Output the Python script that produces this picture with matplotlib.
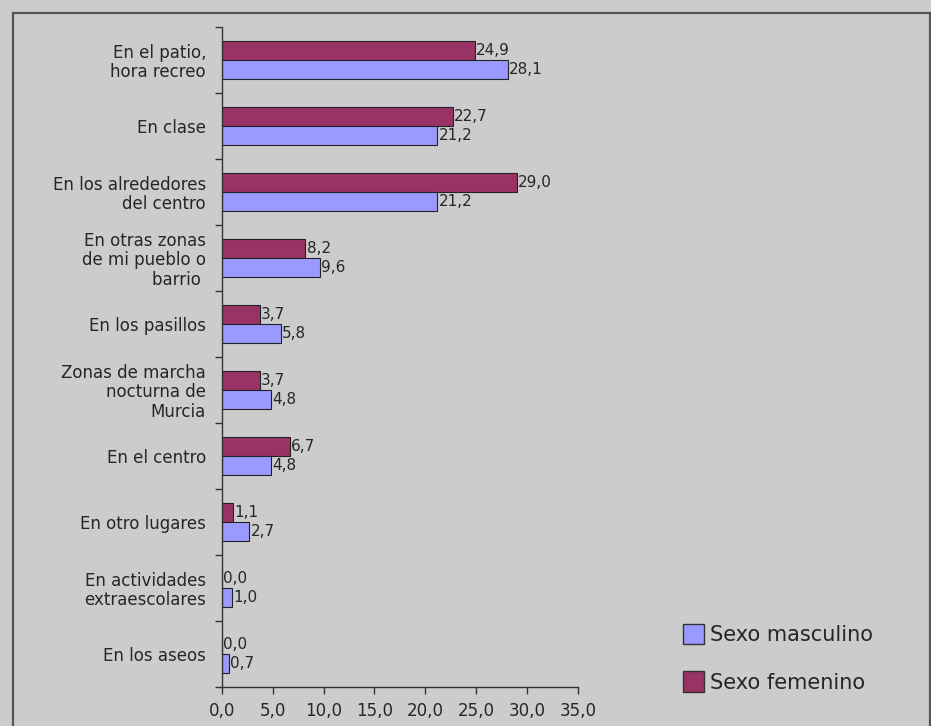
import matplotlib
matplotlib.use("Agg")
import matplotlib.pyplot as plt
from matplotlib.patches import Rectangle, Patch
import numpy as np

categories = [
    "En el patio,\nhora recreo",
    "En clase",
    "En los alrededores\ndel centro",
    "En otras zonas\nde mi pueblo o\nbarrio ",
    "En los pasillos",
    "Zonas de marcha\nnocturna de\nMurcia",
    "En el centro",
    "En otro lugares",
    "En actividades\nextraescolares",
    "En los aseos",
]
femenino = [24.9, 22.7, 29.0, 8.2, 3.7, 3.7, 6.7, 1.1, 0.0, 0.0]
masculino = [28.1, 21.2, 21.2, 9.6, 5.8, 4.8, 4.8, 2.7, 1.0, 0.7]
xticks = [0, 5, 10, 15, 20, 25, 30, 35]
xtick_labels = ["0,0", "5,0", "10,0", "15,0", "20,0", "25,0", "30,0", "35,0"]

plt.rcParams['font.family'] = ['DejaVu Sans']

W, H = 931, 726
fig = plt.figure(figsize=(W / 100, H / 100), dpi=100)
fig.patch.set_facecolor('#CCCCCC')

# outer frame
fig.add_artist(Rectangle((12.5 / W, -0.01), (930 - 12.5) / W, 1 - 13 / H + 0.01,
                         transform=fig.transFigure, fill=False,
                         edgecolor='#555555', linewidth=1.6))

ax = fig.add_axes([222 / W, 1 - 686.7 / H, (577.7 - 222) / W, (686.7 - 27) / H])
ax.set_facecolor('#CCCCCC')

n = len(categories)
y = np.arange(n)
bh = 0.29
C_F = '#993366'
C_M = '#9999FF'
TXT = '#262626'
ax.barh(y - bh / 2, femenino, height=bh, color=C_F, edgecolor='#222222', linewidth=0.8)
ax.barh(y + bh / 2, masculino, height=bh, color=C_M, edgecolor='#222222', linewidth=0.8)

for i in range(n):
    ax.text(femenino[i] + 0.12, y[i] - bh / 2, f"{femenino[i]:.1f}".replace('.', ','),
            va='center', ha='left', fontsize=11, color=TXT)
    ax.text(masculino[i] + 0.12, y[i] + bh / 2, f"{masculino[i]:.1f}".replace('.', ','),
            va='center', ha='left', fontsize=11, color=TXT)

ax.set_xlim(0, 35)
ax.set_ylim(n - 0.5, -0.5)
ax.set_xticks(xticks)
ax.set_xticklabels(xtick_labels, fontsize=12, color=TXT)

ax.set_yticks(y)
ax.set_yticklabels(categories, fontsize=12, color=TXT, linespacing=1.08)
ax.tick_params(axis='y', which='major', length=0, pad=11.5)
ax.set_yticks(np.arange(-0.5, n, 1.0), minor=True)
ax.tick_params(axis='y', which='minor', length=5, width=1, color='#333333', direction='out')
ax.tick_params(axis='x', length=5, width=1, color='#333333', direction='out', pad=6)

for s in ['top', 'right']:
    ax.spines[s].set_visible(False)
for s in ['left', 'bottom']:
    ax.spines[s].set_color('#333333')
    ax.spines[s].set_linewidth(1)

handles = [Patch(facecolor=C_M, edgecolor='#333333', label='Sexo masculino'),
           Patch(facecolor=C_F, edgecolor='#333333', label='Sexo femenino')]
fig.legend(handles=handles, loc='upper left', bbox_to_anchor=(664 / W, 1 - 605 / H),
           frameon=False, fontsize=15, handlelength=1.0, handleheight=1.15,
           handletextpad=0.3, labelspacing=1.25, labelcolor=TXT)

fig.savefig('out.png', dpi=100, facecolor=fig.get_facecolor())
